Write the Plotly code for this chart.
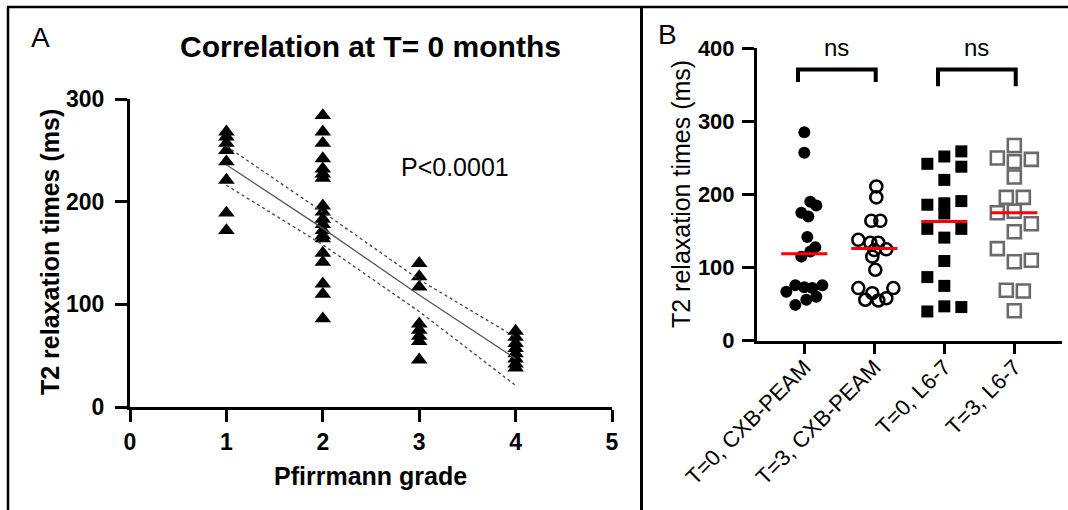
import plotly.graph_objects as go

# ---------------- Panel A data ----------------
grades = [1, 2, 3, 4]
grade1_t2 = [268, 263, 257, 250, 239, 221, 189, 172]
grade2_t2 = [284, 268, 257, 242, 232, 227, 223, 196, 190, 183, 178, 172, 167, 164, 150, 141, 120, 110, 86]
grade3_t2 = [140, 127, 117, 81, 75, 69, 64, 46]
grade4_t2 = [74, 68, 62, 57, 52, 47, 42, 38]

fit_x = [1, 2, 3, 4]
fit_y = [236, 174, 109, 47]
ci_upper = [254, 190, 124, 68]
ci_lower = [216, 158, 93, 21]
p_text = "P<0.0001"

# ---------------- Panel B data ----------------
categories = ["T=0, CXB-PEAM", "T=3, CXB-PEAM", "T=0, L6-7", "T=3, L6-7"]
t0_cxb = [285, 257, 190, 185, 175, 170, 142, 128, 122, 115, 76, 67, 73, 72, 76, 60, 56, 49]
t0_cxb_jit = [0, 0, 6, 12, -3, 4, 3, 11, 6, -3, -9, -18, 0, 8, 18, 12, 2, -9]
t3_cxb = [211, 196, 164, 164, 138, 134, 134, 125, 124, 115, 97, 72, 72, 65, 56, 55, 58]
t3_cxb_jit = [2, 2, -3, 6, -16, -4, 4, 12, 0, -2, 1, -16, 19, -2, -9, 4, 12]
t0_l67 = [242, 252, 259, 238, 220, 186, 188, 174, 191, 153, 153, 141, 109, 87, 75, 40, 47, 46]
t0_l67_jit = [-17, 0, 17, 17, 0, -17, 0, 0, 17, -17, 17, 0, 0, -17, 0, -17, 0, 17]
t3_l67 = [267, 250, 245, 248, 224, 196, 196, 175, 177, 160, 149, 126, 108, 110, 69, 68, 41]
t3_l67_jit = [0, -17, 0, 17, 0, -8, 9, -17, 0, 17, 0, -17, 0, 17, -8, 9, 0]
medians = [119, 126, 163, 175]
comparisons = [(0, 1), (2, 3)]
comparison_labels = ["ns", "ns"]

W, H = 1068, 510
FONT = "Liberation Sans, Arial, sans-serif"


def pxx(x):
    return x / W


def pxy(y):
    return 1 - y / H


fig = go.Figure()

# ---- Panel A traces ----
for g, vals in zip(grades, [grade1_t2, grade2_t2, grade3_t2, grade4_t2]):
    fig.add_trace(go.Scatter(
        x=[g] * len(vals), y=vals, mode="markers",
        marker=dict(symbol="triangle-up", size=14.5, color="black"),
        xaxis="x", yaxis="y", showlegend=False, cliponaxis=False))

fig.add_trace(go.Scatter(x=fit_x, y=ci_upper, mode="lines",
                         line=dict(color="#444", width=1.3, dash="dot"),
                         xaxis="x", yaxis="y", showlegend=False))
fig.add_trace(go.Scatter(x=fit_x, y=ci_lower, mode="lines",
                         line=dict(color="#444", width=1.3, dash="dot"),
                         xaxis="x", yaxis="y", showlegend=False))
fig.add_trace(go.Scatter(x=fit_x, y=fit_y, mode="lines",
                         line=dict(color="#555", width=1.3),
                         xaxis="x", yaxis="y", showlegend=False))

# ---- Panel B traces ----
SP = 70.0  # pixels per category unit (used only to convert read jitter offsets)
groups = [
    (t0_cxb, t0_cxb_jit, dict(symbol="circle", size=12, color="black")),
    (t3_cxb, t3_cxb_jit, dict(symbol="circle-open", size=12, color="black", line=dict(width=2.6))),
    (t0_l67, t0_l67_jit, dict(symbol="square", size=12, color="black")),
    (t3_l67, t3_l67_jit, dict(symbol="square-open", size=13, color="#6a6a6a", line=dict(width=2.6))),
]
for i, (vals, jit, mk) in enumerate(groups):
    fig.add_trace(go.Scatter(
        x=[i + j / SP for j in jit], y=vals, mode="markers", marker=mk,
        xaxis="x2", yaxis="y2", showlegend=False, cliponaxis=False))

mx, my = [], []
for i, m in enumerate(medians):
    mx += [i - 0.33, i + 0.33, None]
    my += [m, m, None]
fig.add_trace(go.Scatter(x=mx, y=my, mode="lines", line=dict(color="#ff0000", width=3),
                         xaxis="x2", yaxis="y2", showlegend=False))

bracket_top = 371
bracket_feet = [(354, 354), (348, 348)]
for (a, b), (fa, fb) in zip(comparisons, bracket_feet):
    fig.add_trace(go.Scatter(x=[a - 0.09, a - 0.09, b + 0.02, b + 0.02],
                             y=[fa, bracket_top, bracket_top, fb], mode="lines",
                             line=dict(color="black", width=4),
                             xaxis="x2", yaxis="y2", showlegend=False, cliponaxis=False))

annotations = []
for (a, b), lab in zip(comparisons, comparison_labels):
    annotations.append(dict(x=(a + b) / 2 - 0.04, y=pxy(47), xref="x2", yref="paper", text=lab,
                            showarrow=False, font=dict(family=FONT, size=24, color="black"),
                            xanchor="center", yanchor="middle"))

# titles / labels
annotations += [
    dict(x=pxx(370), y=pxy(46), xref="paper", yref="paper", text="Correlation at T= 0 months",
         showarrow=False, font=dict(family=FONT, size=30, color="black", weight="bold"),
         xanchor="center", yanchor="middle"),
    dict(x=pxx(40), y=pxy(38), xref="paper", yref="paper", text="A", showarrow=False,
         font=dict(family=FONT, size=28, color="black"), xanchor="center", yanchor="middle"),
    dict(x=pxx(667), y=pxy(35), xref="paper", yref="paper", text="B", showarrow=False,
         font=dict(family=FONT, size=28, color="black"), xanchor="center", yanchor="middle"),
    dict(x=pxx(50), y=pxy(252), xref="paper", yref="paper", text="T2 relaxation times (ms)",
         showarrow=False, textangle=-90,
         font=dict(family=FONT, size=25, color="black", weight="bold"),
         xanchor="center", yanchor="middle"),
    dict(x=pxx(370), y=pxy(476), xref="paper", yref="paper", text="Pfirrmann grade",
         showarrow=False, font=dict(family=FONT, size=25, color="black", weight="bold"),
         xanchor="center", yanchor="middle"),
    dict(x=pxx(455), y=pxy(167), xref="paper", yref="paper", text=p_text,
         showarrow=False, font=dict(family=FONT, size=25, color="black"),
         xanchor="center", yanchor="middle"),
    dict(x=pxx(681), y=pxy(194), xref="paper", yref="paper", text="T2 relaxation times (ms)",
         showarrow=False, textangle=-90, font=dict(family=FONT, size=25, color="black"),
         xanchor="center", yanchor="middle"),
]

# frame lines
shapes = [
    dict(type="line", xref="paper", yref="paper", x0=pxx(8), x1=pxx(8), y0=pxy(7), y1=0,
         line=dict(color="black", width=2.5)),
    dict(type="line", xref="paper", yref="paper", x0=pxx(7), x1=1, y0=pxy(7), y1=pxy(7),
         line=dict(color="black", width=2.5)),
    dict(type="line", xref="paper", yref="paper", x0=pxx(641.5), x1=pxx(641.5), y0=pxy(7), y1=0,
         line=dict(color="black", width=3)),
]

axis_common = dict(showgrid=False, zeroline=False, showline=True, linecolor="black",
                   linewidth=3, ticks="outside", tickcolor="black", tickwidth=3,
                   automargin=False)

fig.update_layout(
    template="none",
    width=W, height=H,
    autosize=False,
    margin=dict(l=0, r=0, t=0, b=0, pad=0),
    paper_bgcolor="white", plot_bgcolor="white",
    showlegend=False,
    xaxis=dict(domain=[pxx(130), pxx(612)], range=[0, 5], tickvals=[0, 1, 2, 3, 4, 5],
               ticklen=12, ticklabelstandoff=0, anchor="y",
               tickfont=dict(family=FONT, size=23, color="black", weight="bold"), **axis_common),
    yaxis=dict(domain=[pxy(407), pxy(99)], range=[0, 300], tickvals=[0, 100, 200, 300],
               ticklen=12, ticklabelstandoff=6, anchor="x",
               tickfont=dict(family=FONT, size=23, color="black", weight="bold"), **axis_common),
    xaxis2=dict(domain=[pxx(757), pxx(1062)], range=[-0.676, 3.681], tickvals=[0, 1, 2, 3],
                ticktext=categories, tickangle=-45, ticklen=10, ticklabelstandoff=-8, anchor="y2",
                tickfont=dict(family=FONT, size=22, color="black"), **axis_common),
    yaxis2=dict(domain=[pxy(340.7), pxy(48.3)], range=[0, 400], tickvals=[0, 100, 200, 300, 400],
                ticklen=12, ticklabelstandoff=3, anchor="x2",
                tickfont=dict(family=FONT, size=22, color="black", weight="bold"), **axis_common),
    annotations=annotations,
    shapes=shapes,
)

fig.write_html("out.html")
